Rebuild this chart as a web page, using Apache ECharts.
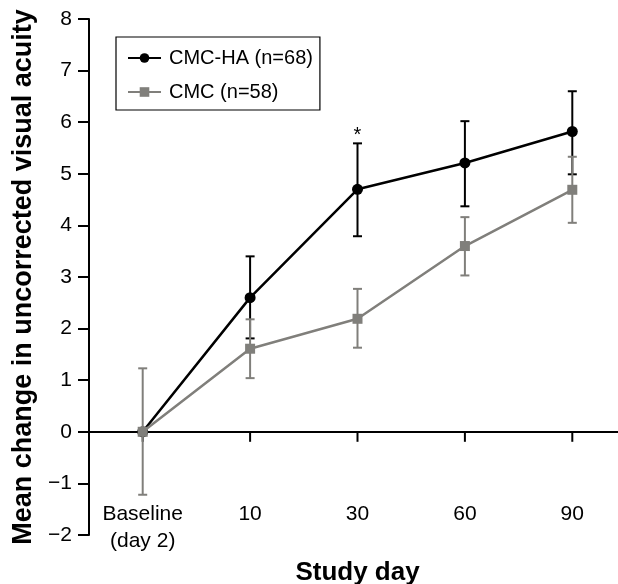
<!DOCTYPE html>
<html>
<head>
<meta charset="utf-8">
<script src="https://cdn.jsdelivr.net/npm/echarts@6/dist/echarts.min.js"></script>
<style>html,body{margin:0;padding:0;background:#fff}#c{width:618px;height:584px}</style>
</head>
<body>
<div id="c"></div>
<script>
var categories = ['Baseline\n(day 2)', '10', '30', '60', '90'];
var haMean = [0, 2.6, 4.7, 5.21, 5.82];
var haLow  = [null, 1.81, 3.79, 4.37, 4.99];
var haHigh = [null, 3.4, 5.59, 6.02, 6.6];
var cmcMean = [0, 1.61, 2.19, 3.6, 4.69];
var cmcLow  = [-1.22, 1.04, 1.63, 3.03, 4.05];
var cmcHigh = [1.23, 2.18, 2.77, 4.16, 5.33];
var annotIndex = [2];
var annotValue = [5.59];
var annotText = ['*'];

var BLACK = '#000000';
var GRAY = '#807f7b';
var FONT = '"Liberation Sans", Arial, sans-serif';

function errData(low, high) {
  var d = [];
  for (var i = 0; i < low.length; i++) {
    if (low[i] != null) d.push([i, low[i], high[i]]);
  }
  return d;
}
function errRender(color) {
  return function (params, api) {
    var x = api.value(0);
    var lo = api.coord([x, api.value(1)]);
    var hi = api.coord([x, api.value(2)]);
    var w = 4.5;
    var st = { stroke: color, lineWidth: 2 };
    return { type: 'group', children: [
      { type: 'line', shape: { x1: lo[0], y1: lo[1], x2: hi[0], y2: hi[1] }, style: st },
      { type: 'line', shape: { x1: lo[0] - w, y1: lo[1], x2: lo[0] + w, y2: lo[1] }, style: st },
      { type: 'line', shape: { x1: hi[0] - w, y1: hi[1], x2: hi[0] + w, y2: hi[1] }, style: st }
    ]};
  };
}

var chart = echarts.init(document.getElementById('c'));
chart.setOption({
  animation: false,
  textStyle: { fontFamily: FONT },
  grid: { left: 89, top: 19, width: 537, bottom: 49, outerBoundsMode: 'none', containLabel: false },
  legend: {
    left: 116, top: 37, orient: 'vertical',
    data: ['CMC-HA (n=68)', 'CMC (n=58)'],
    borderColor: '#000', borderWidth: 1.2, padding: [11, 7, 8, 11],
    itemWidth: 33, itemHeight: 12, itemGap: 14,
    textStyle: { fontSize: 20, color: '#000', fontFamily: FONT, padding: [0, 0, 0, 3] }
  },
  xAxis: {
    type: 'category', data: categories, boundaryGap: true,
    axisLine: { onZero: true, lineStyle: { color: '#000', width: 2 } },
    axisTick: { show: false },
    axisLabel: { margin: -34, fontSize: 21, color: '#000', lineHeight: 27, fontFamily: FONT },
    name: 'Study day', nameLocation: 'middle', nameGap: 20,
    nameTextStyle: { fontSize: 26, fontWeight: 'bold', color: '#000', fontFamily: FONT }
  },
  yAxis: {
    type: 'value', min: -2, max: 8, interval: 1,
    splitLine: { show: false },
    axisLine: { show: true, lineStyle: { color: '#000', width: 2 } },
    axisTick: { show: true, length: 11, lineStyle: { color: '#000', width: 2 } },
    axisLabel: { margin: 17, fontSize: 21, color: '#000', fontFamily: FONT,
      formatter: function (v) { return v < 0 ? '\u2212' + (-v) : String(v); } },
    name: 'Mean change in uncorrected visual acuity', nameLocation: 'middle', nameGap: 51,
    nameTextStyle: { fontSize: 27, fontWeight: 'bold', color: '#000', fontFamily: FONT }
  },
  series: [
    { type: 'custom', z: 2, silent: true,
      data: categories.map(function (c, i) { return [i, 0]; }),
      renderItem: function (params, api) {
        var p = api.coord([api.value(0), api.value(1)]);
        return { type: 'line', shape: { x1: p[0], y1: p[1], x2: p[0], y2: p[1] + 10 },
          style: { stroke: '#000', lineWidth: 2 } };
      } },
    { name: 'CMC-HA (n=68)', type: 'line', data: haMean, symbol: 'circle', symbolSize: 11,
      lineStyle: { color: BLACK, width: 2.5 }, itemStyle: { color: BLACK }, z: 3 },
    { type: 'custom', data: errData(haLow, haHigh), renderItem: errRender(BLACK), z: 3 },
    { name: 'CMC (n=58)', type: 'line', data: cmcMean, symbol: 'rect', symbolSize: 10,
      lineStyle: { color: GRAY, width: 2.5 }, itemStyle: { color: GRAY }, z: 4 },
    { type: 'custom', data: errData(cmcLow, cmcHigh), renderItem: errRender(GRAY), z: 4 },
    { type: 'custom', z: 5,
      data: annotIndex.map(function (d, i) { return [d, annotValue[i], annotText[i]]; }),
      renderItem: function (params, api) {
        var p = api.coord([api.value(0), api.value(1)]);
        return { type: 'text', x: p[0], y: p[1] - 8,
          style: { text: annotText[params.dataIndex], fill: '#000', fontSize: 20,
            fontFamily: FONT, align: 'center', verticalAlign: 'middle' } };
      } }
  ]
});
</script>
</body>
</html>
